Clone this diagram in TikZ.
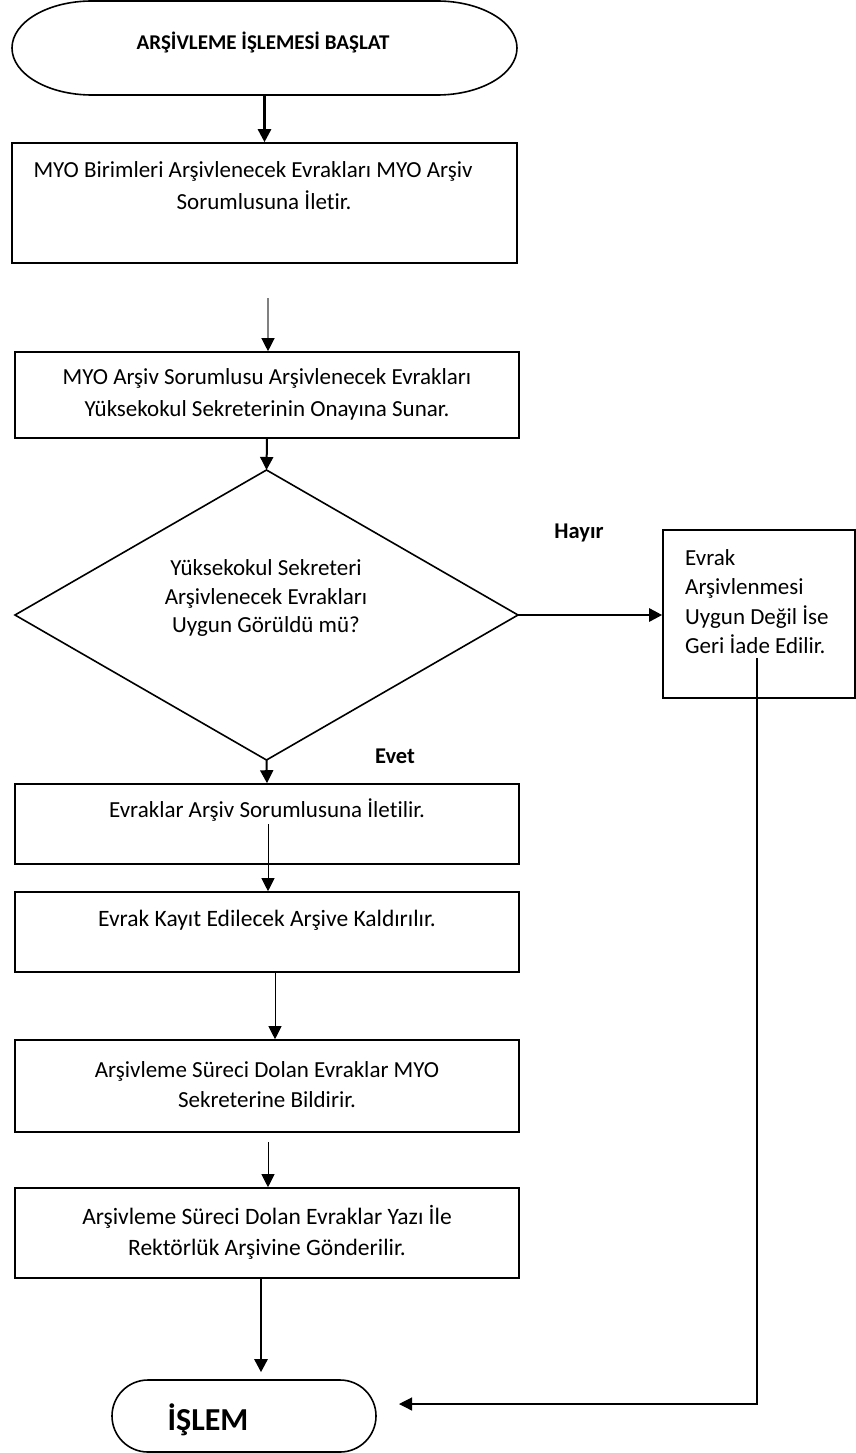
\documentclass[tikz,border=0pt]{standalone}
\usepackage{fontspec}
\setmainfont{Carlito}[Ligatures={NoCommon}]
\usetikzlibrary{arrows.meta,calc}
\begin{document}
\begin{tikzpicture}[x=1pt,y=-1pt,
  box/.style={draw,line width=1.6pt,rectangle,inner sep=0pt},
  ghost/.style={rectangle,inner sep=0pt,outer sep=0pt},
  txt/.style={font=\fontsize{23}{32}\selectfont,align=center,inner sep=0pt},
  lbl/.style={font=\fontsize{22.5}{26}\selectfont\bfseries,inner sep=0pt},
  tip/.style={-{Triangle[length=13pt,width=13pt]}},
  thinarrow/.style={tip,line width=1pt},
  grayarrow/.style={-{Triangle[length=13pt,width=13pt,color=black]},line width=1.2pt,draw=gray},
  medarrow/.style={tip,line width=2pt},
  heavyarrow/.style={tip,line width=2.6pt}]
\useasboundingbox (0,0) rectangle (856,1453);

% start terminator
\node[ghost,minimum width=505pt,minimum height=95pt] (s) at (264.5,48) {};
\draw[line width=1.6pt] (92,1) -- (437,1)
  arc[start angle=90,end angle=-90,x radius=80pt,y radius=47pt] -- (92,95)
  arc[start angle=270,end angle=90,x radius=80pt,y radius=47pt] -- cycle;
\node[lbl,font=\fontsize{21}{25}\selectfont\bfseries] (st) at (263,42) {ARŞİVLEME İŞLEMESİ BAŞLAT};

% boxes
\node[box,minimum width=505pt,minimum height=120pt] (b1) at (264.5,203) {};
\node[txt] (t1) at (264,186) {MYO Birimleri Arşivlenecek Evrakları MYO Arşiv\hspace*{22pt}\\Sorumlusuna İletir.};

\node[box,minimum width=504pt,minimum height=86pt] (b2) at (267,395) {};
\node[txt] (t2) at (267,394) {MYO Arşiv Sorumlusu Arşivlenecek Evrakları\\Yüksekokul Sekreterinin Onayına Sunar.};

% diamond
\node[ghost,minimum width=503pt,minimum height=290pt] (d) at (266.5,615) {};
\draw[line width=1.6pt] (d.north) -- (d.east) -- (d.south) -- (d.west) -- cycle;
\node[txt,font=\fontsize{23}{28.5}\selectfont] (dt) at (266,598) {Yüksekokul Sekreteri\\Arşivlenecek Evrakları\\Uygun Görüldü mü?};

\node[lbl] (hayir) at (579,533) {Hayır};
\node[lbl] (evet) at (395,756) {Evet};

% right box
\node[box,minimum width=192pt,minimum height=168pt] (rb) at (759,614) {};
\node[txt,align=left,anchor=west,font=\fontsize{23}{29.2}\selectfont] (rt) at (685,601.5) {Evrak\\Arşivlenmesi\\Uygun Değil İse\\Geri İade Edilir.};

\node[box,minimum width=504pt,minimum height=80pt] (b3) at (267,824) {};
\node[txt] (t3) at (267,810) {Evraklar Arşiv Sorumlusuna İletilir.};

\node[box,minimum width=504pt,minimum height=80pt] (b4) at (267,932) {};
\node[txt,font=\fontsize{23.5}{32}\selectfont] (t4) at (267,920) {Evrak Kayıt Edilecek Arşive Kaldırılır.};

\node[box,minimum width=504pt,minimum height=92pt] (b5) at (267,1086) {};
\node[txt,font=\fontsize{23}{30}\selectfont] (t5) at (267,1085) {Arşivleme Süreci Dolan Evraklar MYO\\Sekreterine Bildirir.};

\node[box,minimum width=504pt,minimum height=90pt] (b6) at (267,1233) {};
\node[txt,font=\fontsize{23.5}{31}\selectfont] (t6) at (267,1232) {Arşivleme Süreci Dolan Evraklar Yazı İle\\Rektörlük Arşivine Gönderilir.};

% end terminator
\node[draw,line width=1.6pt,rounded corners=36pt,minimum width=264pt,minimum height=72pt,inner sep=0pt] (e) at (244,1416) {};
\node[lbl,font=\fontsize{32}{36}\selectfont\bfseries] (et) at (208,1420) {İŞLEM};

% connectors
\draw[heavyarrow] (s.south) -- (b1.north);
\coordinate (g) at (268,298);
\draw[grayarrow] (g) -- (g |- b2.north);
\draw[medarrow] (b2.south) -- (d.north);
\draw[heavyarrow] (d.east) -- (d.east -| rb.west);
\draw[medarrow] (d.south) -- (b3.north);
\coordinate (c6) at (268,824);
\draw[thinarrow] (c6) -- (c6 |- b4.north);
\draw[thinarrow] ([xshift=8pt]b4.south) -- ([xshift=8pt]b5.north);
\coordinate (c8) at (268,1142);
\draw[thinarrow] (c8) -- (c8 |- b6.north);
\draw[heavyarrow,shorten >=7pt] ([xshift=-6pt]b6.south) -- ([xshift=17pt]e.north);
\coordinate (r1) at (757,658);
\coordinate (r2) at (399,1404);
\draw[thinarrow,line width=1.2pt] (r1) |- (r2);
\end{tikzpicture}
\end{document}
